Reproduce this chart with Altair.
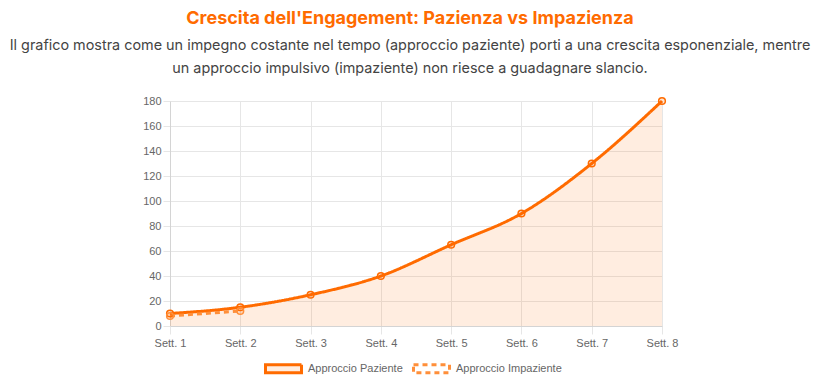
import altair as alt
import pandas as pd

weeks = ["Sett. 1", "Sett. 2", "Sett. 3", "Sett. 4", "Sett. 5", "Sett. 6", "Sett. 7", "Sett. 8"]
patient = [10, 15, 25, 40, 65, 90, 130, 180]
impatient = [8, 12]
series_names = ["Approccio Paziente", "Approccio Impaziente"]
y_ticks = [0, 20, 40, 60, 80, 100, 120, 140, 160, 180]

title_text = "Crescita dell'Engagement: Pazienza vs Impazienza"
subtitle_lines = [
    "Il grafico mostra come un impegno costante nel tempo (approccio paziente) porti a una crescita esponenziale, mentre",
    "un approccio impulsivo (impaziente) non riesce a guadagnare slancio.",
]

rows = []
for w, v in zip(weeks, patient):
    rows.append({"week": w, "value": v, "series": series_names[0]})
for w, v in zip(weeks, impatient):
    rows.append({"week": w, "value": v, "series": series_names[1]})
df = pd.DataFrame(rows)

ORANGE = "#ff6b00"
ORANGE2 = "#ff8f3a"
GRID = "#e6e6e6"

legend = alt.Legend(
    title=None,
    orient="none",
    direction="horizontal",
    legendX=94,
    legendY=248,
    symbolType="M-1,-0.22H1V0.22H-1Z",
    symbolSize=1296,
    symbolStrokeWidth=3,
    symbolOpacity=1,
    labelFont="Liberation Sans",
    labelFontSize=11,
    labelColor="#666666",
    columnPadding=4,
    labelOffset=5,
)

x = alt.X(
    "week:N",
    sort=weeks,
    scale=alt.Scale(type="point", padding=0),
    axis=alt.Axis(
        title=None, labelAngle=0, grid=True, gridColor=GRID, tickColor=GRID,
        tickSize=8, domainColor="#d4d4d4", labelColor="#666666",
        labelFont="Liberation Sans", labelFontSize=11, labelPadding=3,
    ),
)
y = alt.Y(
    "value:Q",
    scale=alt.Scale(domain=[0, 180], nice=False),
    axis=alt.Axis(
        title=None, values=y_ticks, grid=True, gridColor=GRID, tickColor=GRID,
        tickSize=7, domainColor="#d4d4d4", labelColor="#666666",
        labelFont="Liberation Sans", labelFontSize=11, labelPadding=2,
    ),
)

stroke = alt.Stroke("series:N", scale=alt.Scale(domain=series_names, range=[ORANGE, ORANGE2]), legend=legend)
dash = alt.StrokeDash("series:N", scale=alt.Scale(domain=series_names, range=[[1, 0], [5, 4]]), legend=legend)
fill = alt.Fill(
    "series:N",
    scale=alt.Scale(domain=series_names, range=["rgba(255,107,0,0.12)", "rgba(255,255,255,0)"]),
    legend=legend,
)

base = alt.Chart(df)
area = base.mark_area(interpolate="monotone", opacity=1).encode(x=x, y=y, fill=fill)
line = base.mark_line(interpolate="monotone", strokeWidth=3, opacity=1).encode(x=x, y=y, stroke=stroke, strokeDash=dash)
points = base.mark_point(shape="circle", size=45, strokeWidth=1.5, opacity=1, fill="rgba(255,107,0,0.18)", filled=False).encode(
    x=x, y=y, stroke=stroke
)

chart = (
    alt.layer(area, line, points)
    .properties(
        width=492,
        height=225,
        padding={"left": 162, "right": 150, "top": 93, "bottom": 57},
        autosize=alt.AutoSizeParams(type="none"),
        title=alt.TitleParams(
            text=title_text,
            subtitle=subtitle_lines,
            font="Inter",
            fontSize=18,
            fontWeight="bold",
            color=ORANGE,
            subtitleFont="Inter",
            subtitleFontSize=14.4,
            subtitleColor="#444444",
            subtitleLineHeight=23,
            subtitlePadding=11,
            anchor="middle",
            frame="group",
            dx=-6,
            offset=19,
        ),
    )
    .configure_view(stroke=None)
)

chart.save("out.html", embed_options={"renderer": "svg", "actions": False})
